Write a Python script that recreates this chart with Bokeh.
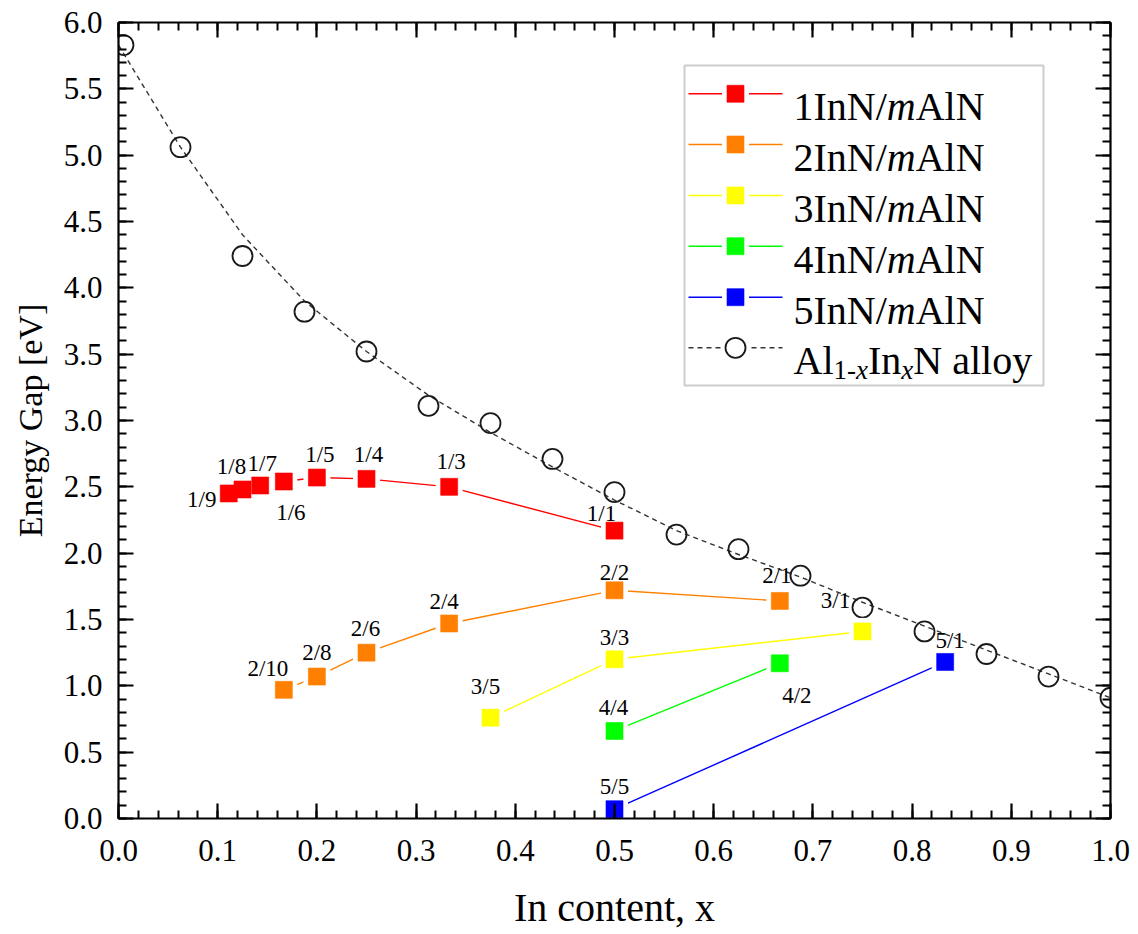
import math
from bokeh.plotting import figure
from bokeh.models import (Range1d, SingleIntervalTicker, LinearAxis, NumeralTickFormatter,
                          BoxAnnotation, ColumnDataSource, CustomJSTickFormatter)
from bokeh.core.properties import value
from bokeh.embed import file_html
from bokeh.resources import INLINE

# ---------------- data ----------------
s1_x = [1/9, 1/8, 1/7, 1/6, 1/5, 1/4, 1/3, 1/2]
s1_y = [2.45, 2.48, 2.51, 2.54, 2.57, 2.56, 2.50, 2.17]
s1_lab = ["1/9", "1/8", "1/7", "1/6", "1/5", "1/4", "1/3", "1/1"]

s2_x = [1/6, 1/5, 1/4, 1/3, 1/2, 2/3]
s2_y = [0.97, 1.07, 1.25, 1.47, 1.72, 1.64]
s2_lab = ["2/10", "2/8", "2/6", "2/4", "2/2", "2/1"]

s3_x = [0.375, 0.5, 0.75]
s3_y = [0.76, 1.20, 1.41]
s3_lab = ["3/5", "3/3", "3/1"]

s4_x = [0.5, 2/3]
s4_y = [0.66, 1.17]
s4_lab = ["4/4", "4/2"]

s5_x = [0.5, 5/6]
s5_y = [0.07, 1.18]
s5_lab = ["5/5", "5/1"]

alloy_x = [0.005, 0.0625, 0.125, 0.1875, 0.25, 0.3125, 0.375, 0.4375, 0.5,
           0.5625, 0.625, 0.6875, 0.75, 0.8125, 0.875, 0.9375, 1.0]
alloy_y = [5.83, 5.06, 4.24, 3.82, 3.52, 3.11, 2.98, 2.71, 2.46,
           2.14, 2.03, 1.83, 1.59, 1.41, 1.24, 1.07, 0.91]

# dashed fit curve
fit_x = [0.0, 0.0625, 0.125, 0.1875, 0.25, 0.3125, 0.375, 0.4375, 0.5,
         0.5625, 0.625, 0.6875, 0.75, 0.8125, 0.875, 0.9375, 1.0]
fit_y = [5.83, 5.06, 4.40, 3.90, 3.52, 3.19, 2.91, 2.65, 2.40,
         2.17, 1.99, 1.82, 1.63, 1.45, 1.27, 1.09, 0.91]

x_ticks_interval = 0.1
y_ticks_interval = 0.5

x_title = "In content, x"
y_title = "Energy Gap [eV]"

# label offsets in screen px (dx, dy), y down
s1_off = [(-27, 6), (-11, -23), (2, -22), (7, 31), (3, -23), (2, -24), (2, -25), (-13, -17)]
s2_off = [(-16, -21), (0, -24), (-1, -24), (-5, -22), (0, -18), (-3, -25)]
s3_off = [(-5, -31), (0, -22), (-27, -31)]
s4_off = [(-1, -23), (17, 32)]
s5_off = [(0, -23), (5, -21)]

# ---------------- layout ----------------
W, H = 1138, 934
L, R, T = 118, 28, 22
FRAME_BOTTOM = 818
B = H - FRAME_BOTTOM
FW, FH = W - L - R, FRAME_BOTTOM - T

def px2x(px):          # page px -> data x
    return (px - L) / FW

def py2y(py):          # page px -> data y
    return (FRAME_BOTTOM - py) / (FH / 6.0)

FONT = value("Liberation Serif")
AXFONT = "'Liberation Serif', serif"

p = figure(width=W, height=H, x_range=Range1d(0, 1), y_range=Range1d(0, 6),
           output_backend="svg", toolbar_location=None,
           min_border_left=L, min_border_right=R, min_border_top=T, min_border_bottom=B,
           x_axis_location=None, y_axis_location=None)
p.grid.visible = False
p.outline_line_color = None
p.background_fill_color = "white"
p.border_fill_color = "white"


def make_axis(interval, show, standoff=14):
    ax = LinearAxis(ticker=SingleIntervalTicker(interval=interval, num_minor_ticks=5))
    ax.axis_line_width = 2.2
    ax.axis_line_color = "black"
    ax.major_tick_in = 15
    ax.major_tick_out = 0
    ax.minor_tick_in = 8
    ax.minor_tick_out = 0
    ax.major_tick_line_width = 2.2
    ax.minor_tick_line_width = 2
    ax.major_tick_line_color = "black"
    ax.minor_tick_line_color = "black"
    if show:
        ax.formatter = NumeralTickFormatter(format="0.0")
        ax.major_label_text_font = AXFONT
        ax.major_label_text_font_size = "31px"
        ax.major_label_text_color = "black"
        ax.major_label_standoff = standoff
        ax.axis_label_text_font = AXFONT
        ax.axis_label_text_font_style = "normal"
        ax.axis_label_text_color = "black"
    else:
        ax.formatter = CustomJSTickFormatter(code="return ''")
        ax.major_label_text_font_size = "0px"
        ax.major_label_standoff = 0
    return ax

xaxis = make_axis(x_ticks_interval, True, 21)
xaxis.axis_label = x_title
xaxis.axis_label_text_font_size = "40px"
xaxis.axis_label_standoff = 21
p.add_layout(xaxis, "below")

yaxis = make_axis(y_ticks_interval, True, 16)
yaxis.axis_label = y_title
yaxis.axis_label_text_font_size = "34px"
yaxis.axis_label_standoff = 12
p.add_layout(yaxis, "left")

p.add_layout(make_axis(x_ticks_interval, False), "above")
p.add_layout(make_axis(y_ticks_interval, False), "right")

# ---------------- legend box (under the glyphs) ----------------
box = BoxAnnotation(left=px2x(684), right=px2x(1043), top=py2y(65), bottom=py2y(385),
                    fill_color="white", fill_alpha=1, line_color="#5a5a5a", line_width=2,
                    level="underlay")
p.add_layout(box)

# ---------------- alloy ----------------
p.line(fit_x, fit_y, line_color="#333333", line_width=1.4, line_dash="5 4")
p.scatter(alloy_x, alloy_y, marker="circle", size=20, fill_color=None,
          line_color="#1a1a1a", line_width=1.8)

series = [
    (s1_x, s1_y, s1_lab, s1_off, "#FF0000"),
    (s2_x, s2_y, s2_lab, s2_off, "#FF8000"),
    (s3_x, s3_y, s3_lab, s3_off, "#FFFF00"),
    (s4_x, s4_y, s4_lab, s4_off, "#00FF00"),
    (s5_x, s5_y, s5_lab, s5_off, "#0000FF"),
]

for xs, ys, labs, offs, col in series:
    p.line(xs, ys, line_color=col, line_width=1.4)
for xs, ys, labs, offs, col in series:
    p.scatter(xs, ys, marker="square", size=27, fill_color="white", line_color=None)
for xs, ys, labs, offs, col in series:
    p.scatter(xs, ys, marker="square", size=17, fill_color=col, line_color=col,
              line_alpha=0.6, line_width=1)
for xs, ys, labs, offs, col in series:
    src = ColumnDataSource(dict(x=xs, y=ys, t=labs,
                                dx=[o[0] for o in offs], dy=[o[1] for o in offs]))
    p.text(x="x", y="y", text="t", x_offset="dx", y_offset="dy", source=src,
           text_font=FONT, text_font_size="23px", text_color="black",
           text_align="center", text_baseline="middle")

# ---------------- legend entries (manual, for mixed styles) ----------------
F = 40
FS = 27
rows_py = [93.3, 144.0, 195.0, 245.7, 296.7, 347.3]
leg_cols = [s[4] for s in series]
x_l0, x_l1, x_m, x_t = 688, 782, 735, 793

for i, col in enumerate(leg_cols):
    yy = py2y(rows_py[i])
    p.line([px2x(x_l0), px2x(x_l1)], [yy, yy], line_color=col, line_width=1.4)
    p.scatter([px2x(x_m)], [yy], marker="square", size=27, fill_color="white", line_color=None)
    p.scatter([px2x(x_m)], [yy], marker="square", size=17, fill_color=col, line_color=col,
              line_alpha=0.6)
    base = rows_py[i] + 13
    pieces = [(f"{i+1}InN/", "normal", 2.333), ("m", "italic", 0.722), ("AlN", "normal", 1.722)]
    cx = x_t
    for txt, sty, wfac in pieces:
        p.text(x=[px2x(cx)], y=[py2y(base)], text=[txt], text_font=FONT,
               text_font_size=f"{F}px", text_font_style=sty, text_color="black",
               text_align="left", text_baseline="alphabetic")
        cx += wfac * F

# alloy legend row
yy = py2y(rows_py[5])
p.line([px2x(x_l0), px2x(x_l1)], [yy, yy], line_color="#333333", line_width=1.4, line_dash="5 4")
p.scatter([px2x(x_m)], [yy], marker="circle", size=27, fill_color="white", line_color=None)
p.scatter([px2x(x_m)], [yy], marker="circle", size=20, fill_color="white",
          line_color="#1a1a1a", line_width=1.8)
base = rows_py[5] + 13
pieces = [("Al", "normal", 1.0, F, 0), ("1-", "normal", 0.833, FS, 9), ("x", "italic", 0.444, FS, 9),
          ("In", "normal", 0.833, F, 0), ("x", "italic", 0.444, FS, 9), ("N alloy", "normal", 2.972, F, 0)]
cx = x_t
for txt, sty, wfac, fs, off in pieces:
    p.text(x=[px2x(cx)], y=[py2y(base + off)], text=[txt], text_font=FONT,
           text_font_size=f"{fs}px", text_font_style=sty, text_color="black",
           text_align="left", text_baseline="alphabetic")
    cx += wfac * fs

open("out.html", "w").write(file_html(p, INLINE))
